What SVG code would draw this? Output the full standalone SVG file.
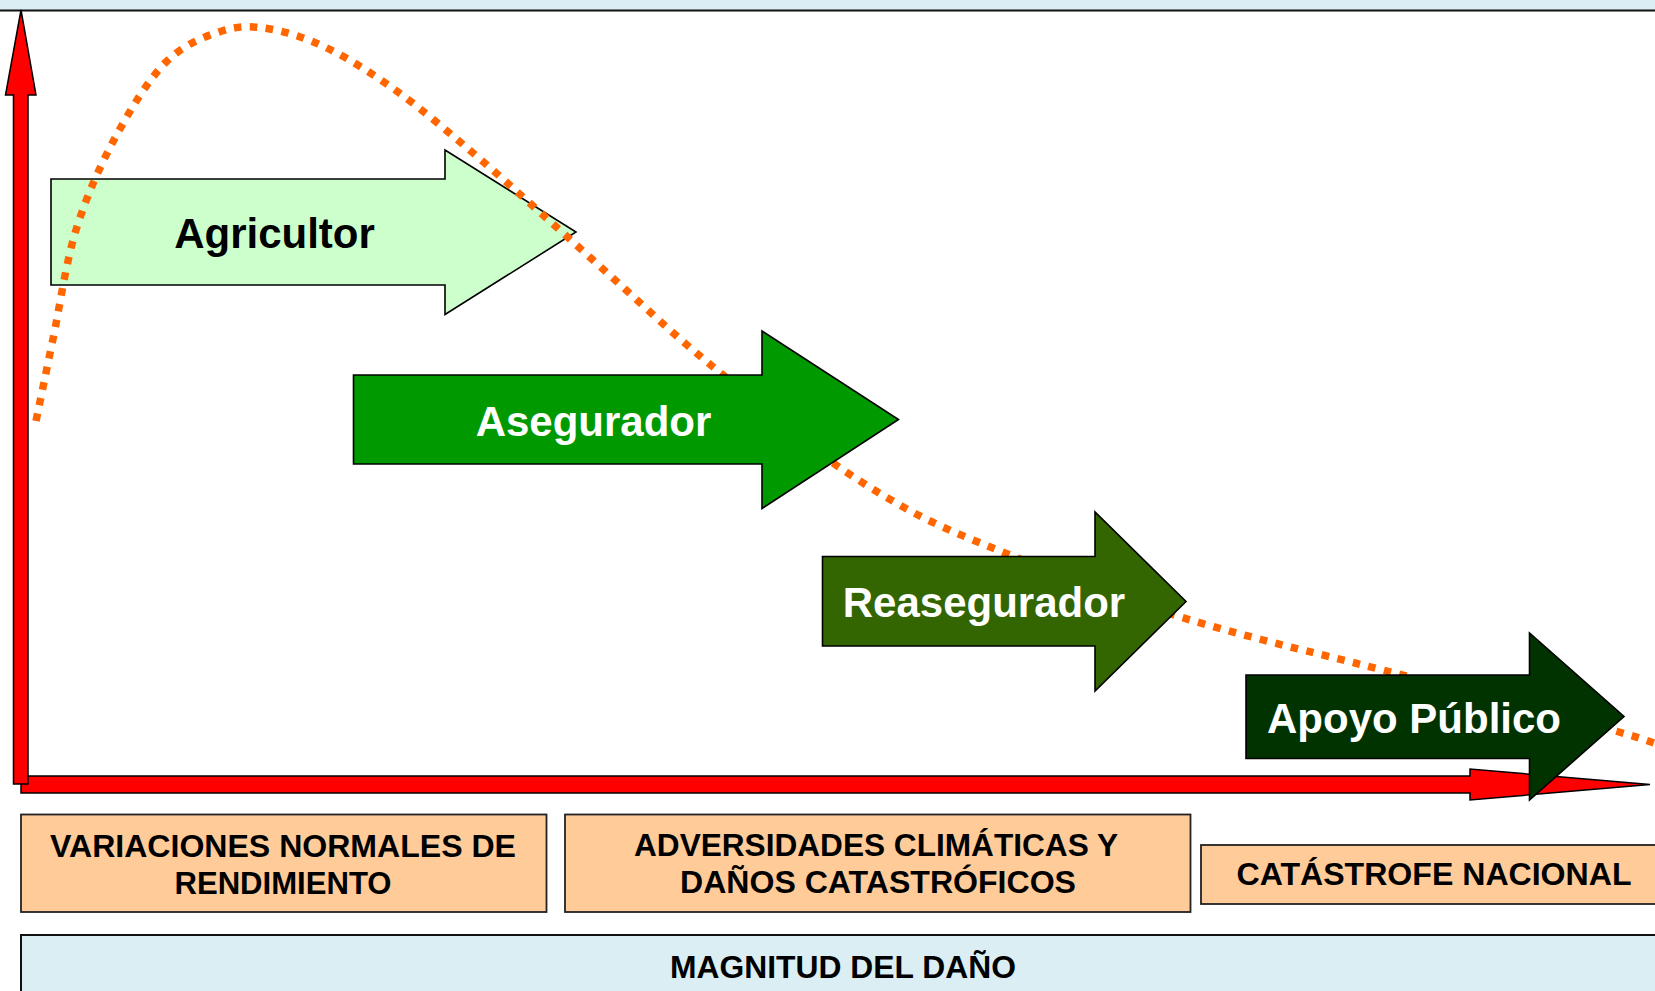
<svg xmlns="http://www.w3.org/2000/svg" width="1655" height="991" viewBox="0 0 1655 991">
<style>
.band{fill:#DAEEF3;stroke:#111;stroke-width:2}
.axis{fill:#FF0000;stroke:#000;stroke-width:1.5;stroke-linejoin:miter}
.arr{stroke:#000;stroke-width:1.6;stroke-linejoin:miter}
.big{font-family:"Liberation Sans",Arial,sans-serif;font-weight:bold;font-size:42px;text-anchor:middle}
.lbl{fill:#FFCC99;stroke:#222;stroke-width:1.8}
.lt{font-family:"Liberation Sans",Arial,sans-serif;font-weight:bold;font-size:31px;text-anchor:middle;fill:#000}
.curve{fill:none;stroke:#FF6600;stroke-width:7.5;stroke-dasharray:7.5 8.5;stroke-linecap:butt}
</style>
<rect width="1655" height="991" fill="#FFFFFF"/>
<g id="top-band">
<rect x="-2" y="-2" width="1660" height="12.5" fill="#DAEEF3"/>
<line x1="0" y1="10.5" x2="1655" y2="10.5" stroke="#111" stroke-width="2"/>
</g>
<g id="connectors">
<polygon id="x-axis" class="axis" points="21,776 1470,776 1470,769 1650,784.5 1470,800 1470,793 21,793"/>
<polygon id="y-axis" class="axis" points="13.5,784 13.5,95 5.5,95 21,10 36,95 28,95 28,784"/>
</g>
<g id="agricultor">
<polygon class="arr" fill="#CCFFCC" points="51,179 445,179 445,150 576,232 445,314.5 445,285 51,285"/>
<text class="big" x="274.5" y="248" fill="#000">Agricultor</text>
</g>
<g id="curve">
<path class="curve" d="M36,421 C41.7,393.7 46.33,370.83 53,339 C59.67,307.17 65.67,263.5 76,230 C86.33,196.5 100,166 115,138 C130,110 148.17,79.83 166,62 C183.83,44.17 204.67,36.5 222,31 C239.33,25.5 252.17,26 270,29 C287.830,32 307.67,38.5 329,49 C350.33,59.5 374,74.67 398,92 C422,109.33 448.83,132.5 473,153 C497.17,173.5 519.33,193.83 543,215 C566.67,236.17 591,258.33 615,280 C639,301.67 662.83,324.17 687,345 C711.17,365.83 735.67,385.33 760,405 C784.33,424.67 806.67,444.67 833,463 C859.33,481.33 889.33,500 918,515 C946.67,530 976.33,541.17 1005,553 C1033.67,564.83 1061.83,575.67 1090,586 C1118.17,596.33 1145.17,606 1174,615 C1202.83,624 1232.83,632 1263,640 C1293.17,648 1318.83,653.83 1355,663 C1391.17,672.17 1436,683.5 1480,695 C1524,706.5 1588.17,723.33 1619,732 C1649.83,740.67 1649.7,742 1665,747"/>
</g>
<g id="asegurador">
<polygon class="arr" fill="#009900" points="353.5,375 762,375 762,331 898.5,419.5 762,508.5 762,464 353.5,464"/>
<text class="big" x="593.5" y="436" fill="#FFFFFF">Asegurador</text>
</g>
<g id="reasegurador">
<polygon class="arr" fill="#336600" points="822.5,556.5 1095,556.5 1095,512 1186,601.5 1095,691 1095,646 822.5,646"/>
<text class="big" x="984" y="617" fill="#FFFFFF">Reasegurador</text>
</g>
<g id="apoyo-publico">
<polygon class="arr" fill="#003300" points="1246,675 1529.5,675 1529.5,633 1624,716.5 1529.5,800 1529.5,758.5 1246,758.5"/>
<text class="big" x="1414" y="733" fill="#FFFFFF">Apoyo Público</text>
</g>
<g id="label-variaciones">
<rect class="lbl" x="21" y="814.5" width="525.5" height="97.5"/>
<text class="lt" x="283" y="856.5" textLength="466" lengthAdjust="spacingAndGlyphs">VARIACIONES NORMALES DE</text>
<text class="lt" x="283" y="894" textLength="217" lengthAdjust="spacingAndGlyphs">RENDIMIENTO</text>
</g>
<g id="label-adversidades">
<rect class="lbl" x="565" y="814.5" width="625.5" height="97.5"/>
<text class="lt" x="876" y="856" textLength="484" lengthAdjust="spacingAndGlyphs">ADVERSIDADES CLIMÁTICAS Y</text>
<text class="lt" x="878" y="893" textLength="396" lengthAdjust="spacingAndGlyphs">DAÑOS CATASTRÓFICOS</text>
</g>
<g id="label-catastrofe">
<rect class="lbl" x="1201" y="845" width="500" height="59"/>
<text class="lt" x="1434" y="885" textLength="395" lengthAdjust="spacingAndGlyphs">CATÁSTROFE NACIONAL</text>
</g>
<g id="magnitud">
<rect class="band" x="21" y="935" width="1700" height="100"/>
<text class="lt" x="843" y="977.5" textLength="346" lengthAdjust="spacingAndGlyphs">MAGNITUD DEL DAÑO</text>
</g>
</svg>
